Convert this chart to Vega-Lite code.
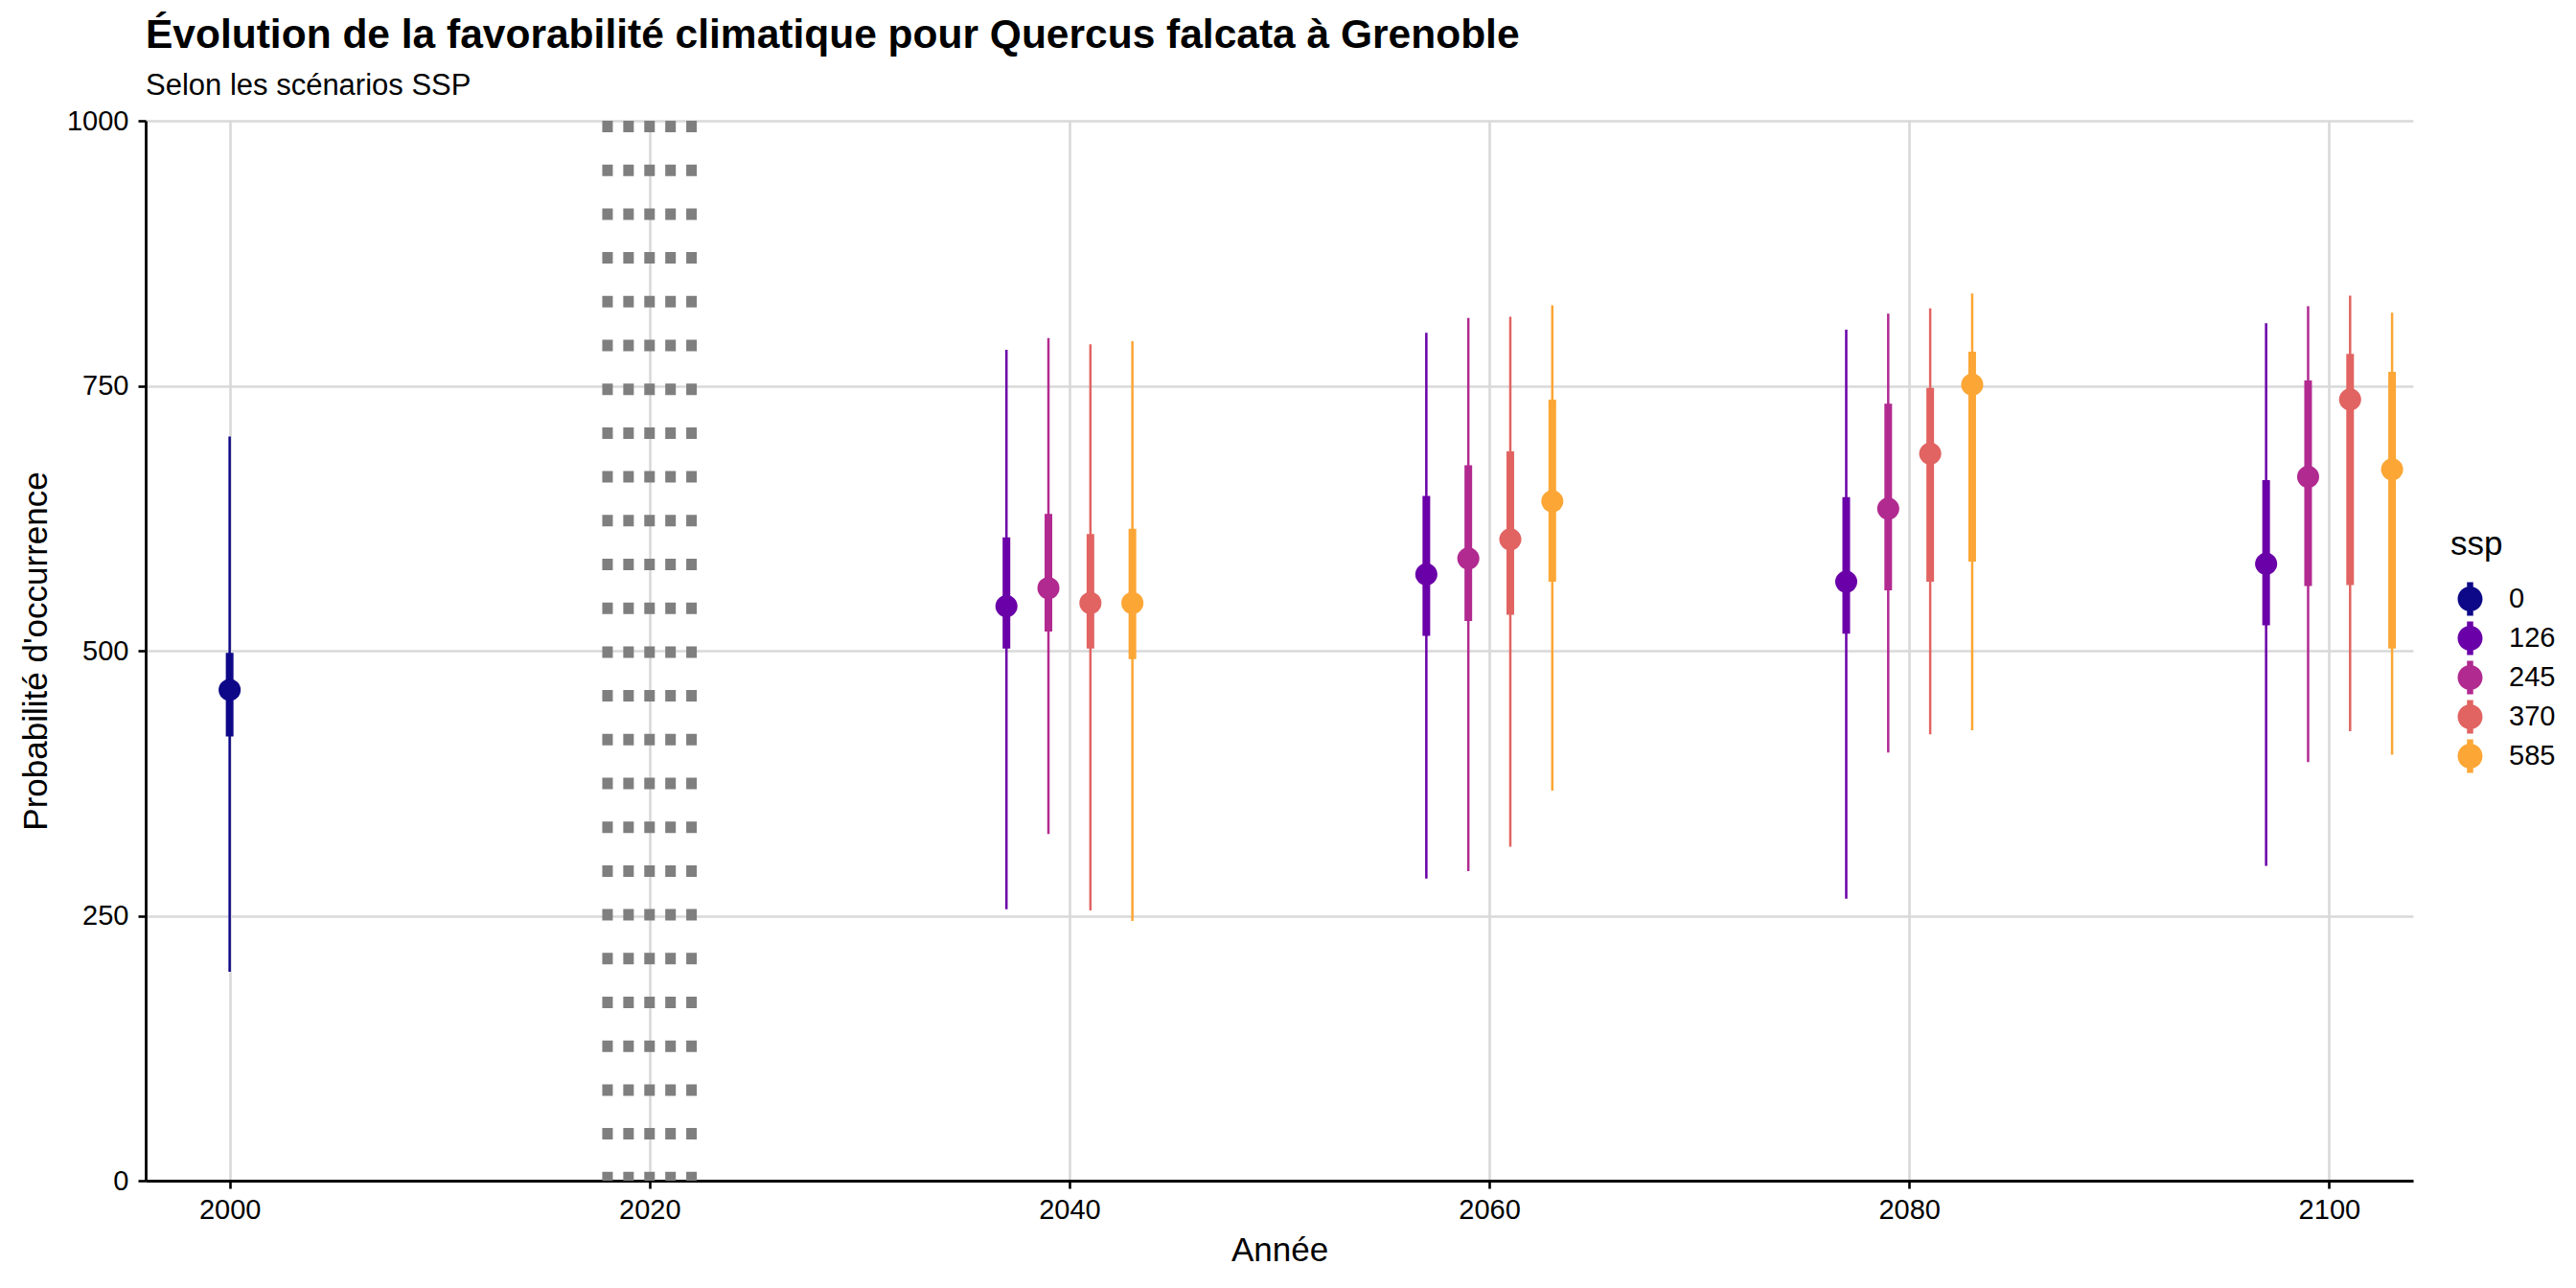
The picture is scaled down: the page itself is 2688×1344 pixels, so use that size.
{
  "$schema": "https://vega.github.io/schema/vega-lite/v6.json",
  "width": 2366,
  "height": 1106,
  "autosize": {"type": "none"},
  "padding": {"left": 152, "top": 126, "right": 170, "bottom": 112},
  "background": "white",
  "title": {
    "text": "Évolution de la favorabilité climatique pour Quercus falcata à Grenoble",
    "subtitle": "Selon les scénarios SSP",
    "anchor": "start",
    "frame": "group",
    "offset": 7,
    "subtitlePadding": 17
  },
  "datasets": {
    "periode": [
      {"x": 2018}, {"x": 2019}, {"x": 2020}, {"x": 2021}, {"x": 2022}
    ],
    "proj": [
      {"annee": 2000, "ssp": "0", "x": 2000, "q05": 197, "q25": 419, "med": 463, "q75": 498, "q95": 702},
      {"annee": 2040, "ssp": "126", "x": 2037, "q05": 256, "q25": 502, "med": 542, "q75": 607, "q95": 784},
      {"annee": 2040, "ssp": "245", "x": 2039, "q05": 327, "q25": 518, "med": 559, "q75": 629, "q95": 795},
      {"annee": 2040, "ssp": "370", "x": 2041, "q05": 255, "q25": 502, "med": 545, "q75": 610, "q95": 789},
      {"annee": 2040, "ssp": "585", "x": 2043, "q05": 245, "q25": 492, "med": 545, "q75": 615, "q95": 792},
      {"annee": 2060, "ssp": "126", "x": 2057, "q05": 285, "q25": 514, "med": 572, "q75": 646, "q95": 800},
      {"annee": 2060, "ssp": "245", "x": 2059, "q05": 292, "q25": 528, "med": 587, "q75": 675, "q95": 814},
      {"annee": 2060, "ssp": "370", "x": 2061, "q05": 315, "q25": 534, "med": 605, "q75": 688, "q95": 815},
      {"annee": 2060, "ssp": "585", "x": 2063, "q05": 368, "q25": 565, "med": 641, "q75": 737, "q95": 826},
      {"annee": 2080, "ssp": "126", "x": 2077, "q05": 266, "q25": 516, "med": 565, "q75": 645, "q95": 803},
      {"annee": 2080, "ssp": "245", "x": 2079, "q05": 404, "q25": 557, "med": 634, "q75": 733, "q95": 818},
      {"annee": 2080, "ssp": "370", "x": 2081, "q05": 421, "q25": 565, "med": 686, "q75": 748, "q95": 823},
      {"annee": 2080, "ssp": "585", "x": 2083, "q05": 425, "q25": 584, "med": 751, "q75": 782, "q95": 837},
      {"annee": 2100, "ssp": "126", "x": 2097, "q05": 297, "q25": 524, "med": 582, "q75": 661, "q95": 809},
      {"annee": 2100, "ssp": "245", "x": 2099, "q05": 395, "q25": 561, "med": 664, "q75": 755, "q95": 825},
      {"annee": 2100, "ssp": "370", "x": 2101, "q05": 424, "q25": 562, "med": 737, "q75": 780, "q95": 835},
      {"annee": 2100, "ssp": "585", "x": 2103, "q05": 402, "q25": 502, "med": 671, "q75": 763, "q95": 819}
    ]
  },
  "data": {"name": "proj"},
  "layer": [
    {
      "data": {"name": "periode"},
      "mark": {"type": "rule", "color": "#7f7f7f", "strokeWidth": 11, "strokeDash": [12, 33.7], "strokeCap": "butt"},
      "encoding": {
        "x": {"field": "x", "type": "quantitative", "title": "Année", "scale": {"domain": [1996, 2104], "nice": false, "zero": false}, "axis": {"values": [2000, 2020, 2040, 2060, 2080, 2100], "format": "d", "labelPadding": 8.5, "titlePadding": 10}},
        "y": {"datum": 1000, "type": "quantitative", "title": "Probabilité d'occurrence", "scale": {"domain": [0, 1000], "nice": false}, "axis": {"values": [0, 250, 500, 750, 1000], "format": "d", "labelPadding": 10, "titlePadding": 14}},
        "y2": {"datum": 0}
      }
    },
    {
      "mark": {"type": "rule", "strokeWidth": 2.5},
      "encoding": {
        "x": {"field": "x", "type": "quantitative", "title": "Année"},
        "y": {"field": "q05", "type": "quantitative", "title": "Probabilité d'occurrence"},
        "y2": {"field": "q95"},
        "color": {"field": "ssp", "type": "nominal", "title": "ssp", "scale": {"domain": ["0", "126", "245", "370", "585"], "range": ["#0D0887", "#6A00A8", "#B12A90", "#E16462", "#FCA636"]}}
      }
    },
    {
      "mark": {"type": "rule", "strokeWidth": 8},
      "encoding": {
        "x": {"field": "x", "type": "quantitative", "title": "Année"},
        "y": {"field": "q25", "type": "quantitative", "title": "Probabilité d'occurrence"},
        "y2": {"field": "q75"},
        "color": {"field": "ssp", "type": "nominal", "title": "ssp"}
      }
    },
    {
      "mark": {"type": "point", "filled": true, "size": 531, "opacity": 1, "strokeWidth": 0},
      "encoding": {
        "x": {"field": "x", "type": "quantitative", "title": "Année"},
        "y": {"field": "med", "type": "quantitative", "title": "Probabilité d'occurrence"},
        "color": {"field": "ssp", "type": "nominal", "title": "ssp"}
      }
    }
  ],
  "config": {
    "font": "Liberation Sans",
    "view": {"stroke": null},
    "axis": {
      "grid": true,
      "gridColor": "#d9d9d9",
      "gridWidth": 2.6,
      "domainColor": "black",
      "domainWidth": 2.8,
      "tickColor": "black",
      "tickWidth": 2.6,
      "tickSize": 8,
      "labelFontSize": 29,
      "labelColor": "black",
      "labelFont": "Liberation Sans",
      "labelFlush": false,
      "labelOverlap": false,
      "titleFontSize": 35,
      "titleFontWeight": "normal",
      "titleColor": "black",
      "titleFont": "Liberation Sans"
    },
    "legend": {
      "orient": "none",
      "legendX": 2405,
      "legendY": 425,
      "symbolType": "M-0.25,-1.35L0.25,-1.35L0.25,1.35L-0.25,1.35Z M1,0A1,1,0,1,1,-1,0A1,1,0,1,1,1,0Z",
      "symbolSize": 676,
      "symbolStrokeWidth": 0,
      "symbolOpacity": 1,
      "symbolOffset": 6,
      "labelOffset": 26,
      "rowPadding": 4,
      "titlePadding": 24.5,
      "labelFontSize": 29,
      "titleFontSize": 35,
      "titleFontWeight": "normal",
      "labelColor": "black",
      "titleColor": "black",
      "labelFont": "Liberation Sans",
      "titleFont": "Liberation Sans",
      "padding": 0
    },
    "title": {
      "font": "Liberation Sans",
      "fontSize": 42.5,
      "fontWeight": "bold",
      "color": "black",
      "subtitleFont": "Liberation Sans",
      "subtitleFontSize": 31,
      "subtitleColor": "black"
    }
  }
}
